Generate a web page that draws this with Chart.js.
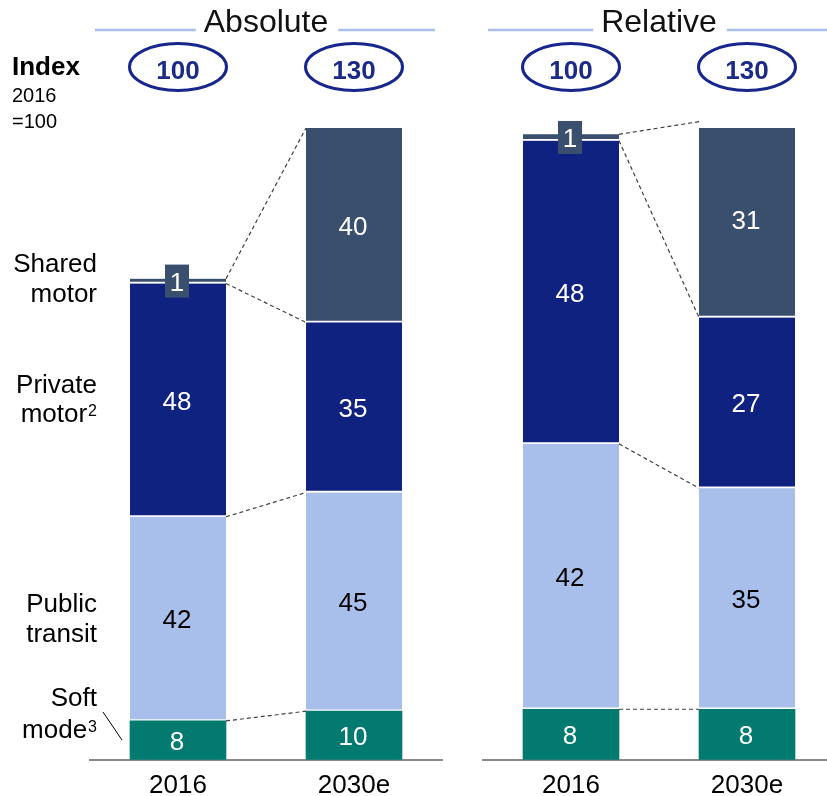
<!DOCTYPE html>
<html>
<head>
<meta charset="utf-8">
<script src="https://cdn.jsdelivr.net/npm/chart.js@4.4.1/dist/chart.umd.min.js"></script>
<style>
  html, body { margin: 0; padding: 0; background: #fff; overflow: hidden; }
  #wrap { position: relative; width: 827px; height: 796px; overflow: hidden; }
  canvas { position: absolute; top: 0; }
  #absChart { left: 0; }
  #relChart { left: 440px; }
</style>
</head>
<body>
<div id="wrap">
  <canvas id="absChart" width="450" height="811"></canvas>
  <canvas id="relChart" width="400" height="811"></canvas>
</div>
<script>
// Modal split of trips, bottom segment first
const years = ['2016', '2030e'];
const modes = ['Soft mode', 'Public transit', 'Private motor', 'Shared motor'];
const indexValues = [100, 130];

// Absolute (index 2016 = 100)
const absSoft    = [8, 10];
const absTransit = [42, 45];
const absPrivate = [48, 35];
const absShared  = [1, 40];

// Relative (share in %)
const relSoft    = [8, 8];
const relTransit = [42, 35];
const relPrivate = [48, 27];
const relShared  = [1, 31];

// Left-hand row labels: text lines and optional superscript
const rowLabels = [
  { lines: ['Soft', 'mode'], sup: '3' },
  { lines: ['Public', 'transit'], sup: '' },
  { lines: ['Private', 'motor'], sup: '2' },
  { lines: ['Shared', 'motor'], sup: '' },
];

const COLORS     = ['#037a6f', '#a7bfea', '#102280', '#3a4f6e'];
const TEXT_COLOR = ['#ffffff', '#000000', '#ffffff', '#ffffff'];
const NAVY       = '#17268a';
const FONT       = "'Liberation Sans', Arial, sans-serif";

Chart.defaults.font.family = FONT;

function buildDatasets(series) {
  return series.map((data, i) => ({
    label: modes[i],
    data,
    backgroundColor: COLORS[i],
    borderColor: '#ffffff',
    borderWidth: i === 0 ? 0 : { top: 0, right: 0, bottom: 2, left: 0 },
    borderSkipped: false,
    barThickness: 96,
  }));
}

function buildOptions(yMax, padLeft, padRight) {
  return {
    responsive: false,
    animation: false,
    events: [],
    layout: { padding: { top: 128, left: padLeft, right: padRight, bottom: 0 } },
    plugins: { legend: { display: false }, tooltip: { enabled: false } },
    scales: {
      x: {
        stacked: true,
        grid: { display: false, drawTicks: false },
        border: { display: true, color: '#8a8a8a', width: 2 },
        ticks: { color: '#000', font: { size: 26 }, padding: 10 },
      },
      y: { stacked: true, display: false, min: 0, max: yMax },
    },
  };
}

// value inside each segment; tiny segments get a boxed label
const valueLabels = {
  id: 'valueLabels',
  afterDatasetsDraw(chart) {
    const ctx = chart.ctx;
    ctx.save();
    ctx.font = '26px ' + FONT;
    ctx.textAlign = 'center';
    ctx.textBaseline = 'alphabetic';
    chart.data.datasets.forEach((ds, d) => {
      chart.getDatasetMeta(d).data.forEach((bar, i) => {
        const cy = (bar.y + bar.base) / 2;
        if (bar.base - bar.y < 20) {
          ctx.fillStyle = COLORS[d];
          ctx.fillRect(bar.x - 13, cy - 16.5, 24, 33);
        }
        ctx.fillStyle = TEXT_COLOR[d];
        ctx.fillText(String(ds.data[i]), bar.x - 1, cy + 9.5);
      });
    });
    ctx.restore();
  },
};

// dashed lines joining matching segment tops of the two bars
const connectors = {
  id: 'connectors',
  afterDatasetsDraw(chart) {
    const ctx = chart.ctx;
    ctx.save();
    ctx.setLineDash([4, 3]);
    ctx.strokeStyle = '#404040';
    ctx.lineWidth = 1.2;
    chart.data.datasets.forEach((ds, d) => {
      const [a, b] = chart.getDatasetMeta(d).data;
      ctx.beginPath();
      ctx.moveTo(a.x + a.width / 2, a.y);
      ctx.lineTo(b.x - b.width / 2, b.y);
      ctx.stroke();
    });
    ctx.restore();
  },
};

// panel heading with rules, plus index ellipses over the bars
function panelHeader(title) {
  return {
    id: 'panelHeader',
    afterDraw(chart) {
      const { ctx, chartArea, scales } = chart;
      const cx = (chartArea.left + chartArea.right) / 2;
      ctx.save();
      ctx.font = '32px ' + FONT;
      ctx.fillStyle = '#111';
      ctx.textAlign = 'center';
      ctx.textBaseline = 'alphabetic';
      ctx.fillText(title, cx, 32);
      const tw = ctx.measureText(title).width;
      ctx.strokeStyle = '#a9c0ea';
      ctx.lineWidth = 2.5;
      ctx.beginPath();
      ctx.moveTo(chartArea.left + 5, 30);
      ctx.lineTo(cx - tw / 2 - 8, 30);
      ctx.moveTo(cx + tw / 2 + 10, 30);
      ctx.lineTo(chartArea.right - 7, 30);
      ctx.stroke();

      indexValues.forEach((v, i) => {
        const x = scales.x.getPixelForValue(i);
        ctx.beginPath();
        ctx.ellipse(x, 67, 48.5, 23.5, 0, 0, Math.PI * 2);
        ctx.strokeStyle = NAVY;
        ctx.lineWidth = 3;
        ctx.stroke();
        ctx.font = 'bold 26px ' + FONT;
        ctx.fillStyle = '#1b2a87';
        ctx.fillText(String(v), x, 79);
      });
      ctx.restore();
    },
  };
}

// index note and row labels on the far left
const rowLabelBaselines = [[706, 738], [612, 642], [393, 422], [272, 302]];
const leftLabels = {
  id: 'leftLabels',
  afterDraw(chart) {
    const ctx = chart.ctx;
    ctx.save();
    ctx.fillStyle = '#000';
    ctx.textBaseline = 'alphabetic';
    ctx.textAlign = 'left';
    ctx.font = 'bold 26px ' + FONT;
    ctx.fillText('Index', 12, 75);
    ctx.font = '20px ' + FONT;
    ctx.fillText('2016', 12, 102);
    ctx.fillText('=100', 12, 128);

    const right = 97;
    rowLabels.forEach((row, r) => {
      row.lines.forEach((line, k) => {
        const y = rowLabelBaselines[r][k];
        const isLast = k === row.lines.length - 1;
        ctx.font = '16px ' + FONT;
        const supW = isLast && row.sup ? ctx.measureText(row.sup).width + 1 : 0;
        ctx.font = '26px ' + FONT;
        const w = ctx.measureText(line).width;
        ctx.fillText(line, right - supW - w, y);
        if (supW) {
          ctx.font = '16px ' + FONT;
          ctx.fillText(row.sup, right - supW + 1, y - 6);
        }
      });
    });

    // pointer from "Soft mode" to its thin segment
    ctx.strokeStyle = '#000';
    ctx.lineWidth = 1;
    ctx.beginPath();
    ctx.moveTo(103, 712);
    ctx.lineTo(122, 740);
    ctx.stroke();
    ctx.restore();
  },
};

new Chart(document.getElementById('absChart'), {
  type: 'bar',
  data: { labels: years, datasets: buildDatasets([absSoft, absTransit, absPrivate, absShared]) },
  options: buildOptions(130, 90, 8),
  plugins: [connectors, valueLabels, panelHeader('Absolute'), leftLabels],
});

new Chart(document.getElementById('relChart'), {
  type: 'bar',
  data: { labels: years, datasets: buildDatasets([relSoft, relTransit, relPrivate, relShared]) },
  options: buildOptions(100, 43, 5),
  plugins: [connectors, valueLabels, panelHeader('Relative')],
});
</script>
</body>
</html>
